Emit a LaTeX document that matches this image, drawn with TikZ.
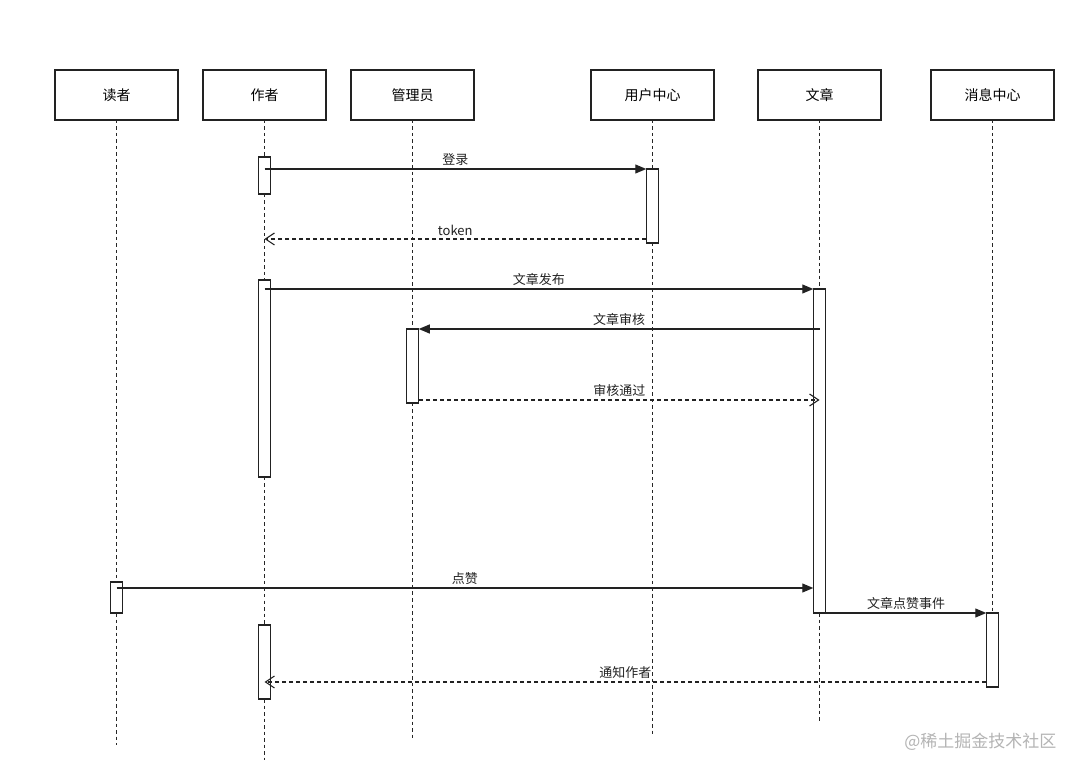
\documentclass[tikz,border=0pt]{standalone}
\usepackage{fontspec}
\setmainfont{Noto Sans CJK SC}
\usetikzlibrary{arrows.meta}
\definecolor{ink}{HTML}{222222}
\definecolor{wm}{HTML}{B4B4B4}
\begin{document}
\begin{tikzpicture}[x=1pt,y=-1pt,
  actor/.style={draw=ink, line width=1.3pt, minimum width=123pt, minimum height=50pt, inner sep=0pt, outer sep=0pt, font=\fontsize{14}{16}\selectfont},
  act/.style={draw=ink, line width=1.2pt, fill=white, minimum width=12.5pt, inner sep=0pt, outer sep=0pt, anchor=north},
  life/.style={draw=black!85, line width=1.5pt, dash pattern=on 3.5pt off 3pt},
  msg/.style={draw=ink, line width=1.2pt, -{Triangle[length=11pt,width=9pt]}},
  ret/.style={draw=ink, line width=1.1pt, dash pattern=on 4pt off 3pt, -{Straight Barb[length=9pt,width=12pt,line width=1.1pt]}},
  lbl/.style={font=\fontsize{13}{15}\selectfont, text=ink, above, inner sep=3pt}
]
\useasboundingbox (0,0) rectangle (1080,775);
\fill[white] (0,0) rectangle (1080,775);

% actors
\node[actor] (reader) at (116.5,95) {读者};
\node[actor] (author) at (264.5,95) {作者};
\node[actor] (admin)  at (412.5,95) {管理员};
\node[actor] (uc)     at (652.5,95) {用户中心};
\node[actor] (art)    at (819.5,95) {文章};
\node[actor] (mc)     at (992.5,95) {消息中心};

% lifeline ends
\coordinate (readerEnd) at (116.5,745);
\coordinate (authorEnd) at (264.5,760);
\coordinate (adminEnd)  at (412.5,738);
\coordinate (ucEnd)     at (652.5,735);
\coordinate (artEnd)    at (819.5,722);

% activations
\node[act, minimum height=37pt]  (za1) at (264.5,157) {};
\node[act, minimum height=74pt]  (ua)  at (652.5,169) {};
\node[act, minimum height=197pt] (za2) at (264.5,280) {};
\node[act, minimum height=324pt] (wa)  at (819.5,289) {};
\node[act, minimum height=74pt]  (ga)  at (412.5,329) {};
\node[act, minimum height=31pt]  (da)  at (116.5,582) {};
\node[act, minimum height=74pt]  (xa)  at (992.5,613) {};
\node[act, minimum height=74pt]  (za3) at (264.5,625) {};

% lifelines
\draw[life] (reader.south) -- (da.north);
\draw[life] (da.south) -- (readerEnd);
\draw[life] (author.south) -- (za1.north);
\draw[life] (za1.south) -- (za2.north);
\draw[life] (za2.south) -- (za3.north);
\draw[life] (za3.south) -- (authorEnd);
\draw[life] (admin.south) -- (ga.north);
\draw[life] (ga.south) -- (adminEnd);
\draw[life] (uc.south) -- (ua.north);
\draw[life] (ua.south) -- (ucEnd);
\draw[life] (art.south) -- (wa.north);
\draw[life] (wa.south) -- (artEnd);
\draw[life] (mc.south) -- (xa.north);

% message end points
\coordinate (t1) at (646,239);
\coordinate (p1) at (419,400);
\coordinate (d1) at (116.5,588);
\coordinate (n1) at (986,682);

% messages
\draw[msg] (za1.center |- ua.north) -- node[lbl] {登录} (ua.north west);
\draw[ret] (t1) -- node[lbl] {token} (za1.center |- t1);
\draw[msg] (za2.center |- wa.north) -- node[lbl] {文章发布} (wa.north west);
\draw[msg] (wa.center |- ga.north) -- node[lbl] {文章审核} (ga.north east);
\draw[ret] (p1) -- node[lbl] {审核通过} (wa.center |- p1);
\draw[msg] (d1) -- node[lbl] {点赞} (wa.west |- d1);
\draw[msg] (wa.south east) -- node[lbl] {文章点赞事件} (xa.north west);
\draw[ret] (n1) -- node[lbl] {通知作者} (za3.center |- n1);

% watermark
\node[text=wm, font=\fontsize{17}{19}\selectfont, anchor=east] (wmark) at (1060,742) {@稀土掘金技术社区};
\end{tikzpicture}
\end{document}
